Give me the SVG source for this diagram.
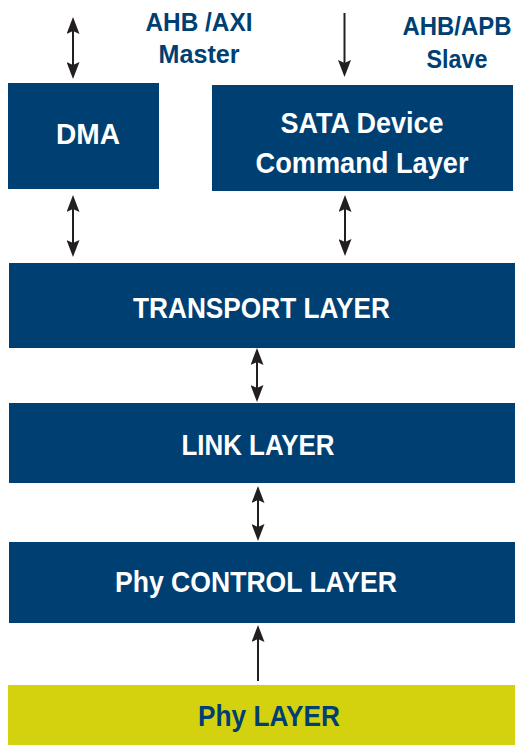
<svg xmlns="http://www.w3.org/2000/svg" width="515" height="745" viewBox="0 0 515 745">
<style>
.box{fill:#003f72}
.phy{fill:#d4d20e}
.t{font-family:"Liberation Sans",Arial,sans-serif;font-weight:bold;text-anchor:middle}
.w{fill:#ffffff;font-size:30px}
.b{fill:#003f72}
.lbl{font-size:25px}
.c{stroke:#231f20;stroke-width:2;fill:none}
</style>
<defs>
<marker id="ah" viewBox="0 0 17 13" refX="9" refY="6.5" markerWidth="17" markerHeight="13" markerUnits="userSpaceOnUse" orient="auto-start-reverse">
<path d="M0,0 L17,6.5 L0,13 L3,6.5 z" fill="#231f20"/>
</marker>
</defs>
<g id="label-master">
<text class="t b lbl" x="199" y="31" textLength="107" lengthAdjust="spacingAndGlyphs">AHB /AXI</text>
<text class="t b lbl" x="199" y="63" textLength="81" lengthAdjust="spacingAndGlyphs">Master</text>
</g>
<g id="label-slave">
<text class="t b lbl" x="457" y="35" textLength="109" lengthAdjust="spacingAndGlyphs">AHB/APB</text>
<text class="t b lbl" x="457" y="68" textLength="61" lengthAdjust="spacingAndGlyphs">Slave</text>
</g>
<g id="dma">
<rect class="box" x="8" y="83" width="151" height="106"/>
<text class="t w" x="88" y="144" textLength="64" lengthAdjust="spacingAndGlyphs">DMA</text>
</g>
<g id="sata">
<rect class="box" x="212" y="85" width="301" height="106"/>
<text class="t w" x="362" y="133" textLength="163" lengthAdjust="spacingAndGlyphs">SATA Device</text>
<text class="t w" x="362" y="173" textLength="213" lengthAdjust="spacingAndGlyphs">Command Layer</text>
</g>
<g id="transport">
<rect class="box" x="9" y="263" width="506" height="85"/>
<text class="t w" x="261.5" y="318" textLength="257" lengthAdjust="spacingAndGlyphs">TRANSPORT LAYER</text>
</g>
<g id="link">
<rect class="box" x="9" y="403" width="506" height="80"/>
<text class="t w" x="258" y="455" textLength="153" lengthAdjust="spacingAndGlyphs">LINK LAYER</text>
</g>
<g id="phy-control">
<rect class="box" x="9" y="542" width="506" height="81"/>
<text class="t w" x="256" y="592" textLength="282" lengthAdjust="spacingAndGlyphs">Phy CONTROL LAYER</text>
</g>
<g id="phy">
<rect class="phy" x="8" y="685" width="507" height="60"/>
<text class="t b" x="269" y="726" font-size="30" textLength="142" lengthAdjust="spacingAndGlyphs">Phy LAYER</text>
</g>
<g id="connectors">
<line class="c" x1="73" y1="25" x2="73" y2="71" marker-start="url(#ah)" marker-end="url(#ah)"/>
<line class="c" x1="344.5" y1="13" x2="344.5" y2="69" marker-end="url(#ah)"/>
<line class="c" x1="73" y1="203" x2="73" y2="249" marker-start="url(#ah)" marker-end="url(#ah)"/>
<line class="c" x1="345" y1="203" x2="345" y2="248" marker-start="url(#ah)" marker-end="url(#ah)"/>
<line class="c" x1="257" y1="356" x2="257" y2="394" marker-start="url(#ah)" marker-end="url(#ah)"/>
<line class="c" x1="258" y1="494" x2="258" y2="533" marker-start="url(#ah)" marker-end="url(#ah)"/>
<line class="c" x1="258" y1="681" x2="258" y2="633" marker-end="url(#ah)"/>
</g>
</svg>
